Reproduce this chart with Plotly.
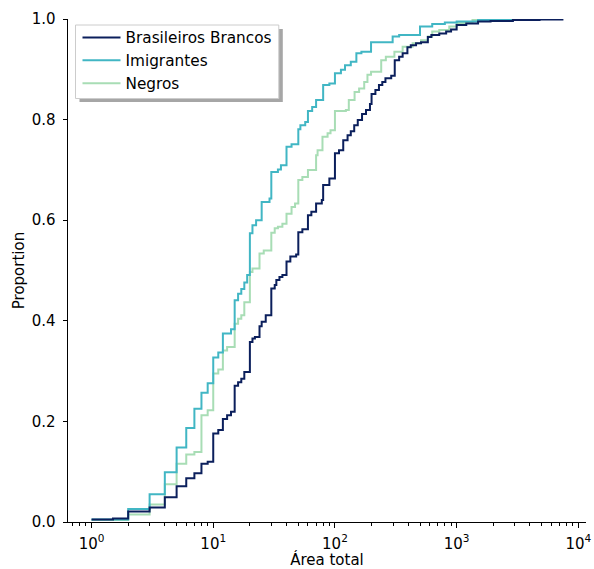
import plotly.graph_objects as go

series_names = ["Brasileiros Brancos", "Imigrantes", "Negros"]

brancos_area = [1, 1.5, 2, 3, 4, 5, 6, 7, 8, 9, 10, 11, 12, 13, 14, 15, 16, 17, 18,
                20, 21, 22, 24, 25, 27, 30, 32, 33, 35, 37, 40, 43, 48, 50, 54, 60, 64,
                70, 78, 80, 90, 100, 108, 117, 127, 135, 144, 154, 167, 180, 194,
                200, 215, 230, 245, 260, 290, 310, 337, 360, 394, 420, 464,
                510, 580, 620, 720, 820, 900, 1000, 1200, 1500, 1900, 2900, 4800, 7400]
brancos_prop = [0.005, 0.007, 0.021, 0.029, 0.049, 0.071, 0.087, 0.097, 0.116, 0.120,
                0.176, 0.183, 0.205, 0.212, 0.219, 0.271, 0.278, 0.285, 0.298,
                0.358, 0.365, 0.368, 0.389, 0.398, 0.411, 0.464, 0.471, 0.481, 0.487, 0.491,
                0.518, 0.528, 0.532, 0.576, 0.582, 0.610, 0.617,
                0.633, 0.640, 0.670, 0.683, 0.733, 0.739, 0.759, 0.769, 0.777, 0.789, 0.799,
                0.811, 0.819, 0.831, 0.851, 0.859, 0.869, 0.875, 0.882, 0.887,
                0.918, 0.925, 0.932, 0.944, 0.948, 0.952,
                0.954, 0.964, 0.968, 0.971, 0.975, 0.979,
                0.988, 0.991, 0.995, 0.996, 0.998, 0.999, 1.0]

imigrantes_area = [1, 2, 3, 4, 5, 6, 7, 8, 9, 10, 11, 12, 14, 15, 16, 17, 18, 19,
                   20, 21, 22.5, 25, 29, 30, 34, 36, 40, 44, 50, 52, 57, 60, 65, 70,
                   80, 90, 100, 112, 121, 135, 150, 165, 198, 298, 337, 500, 630, 800,
                   1000, 1500, 2500, 3100]
imigrantes_prop = [0.005, 0.026, 0.055, 0.099, 0.148, 0.187, 0.225, 0.257, 0.276, 0.327,
                   0.337, 0.375, 0.383, 0.441, 0.454, 0.463, 0.476, 0.491,
                   0.574, 0.590, 0.600, 0.636, 0.643, 0.696, 0.701, 0.709, 0.746, 0.751,
                   0.781, 0.789, 0.795, 0.817, 0.825, 0.839, 0.869, 0.872,
                   0.892, 0.899, 0.908, 0.915, 0.932, 0.935, 0.954, 0.965, 0.968,
                   0.985, 0.990, 0.993, 0.995, 0.998, 0.999, 1.0]

negros_area = [1, 2, 3, 4, 5, 6, 7, 8, 9, 10, 11, 12, 13, 15, 16, 17, 18,
               20, 21, 24, 26, 30, 32, 34, 37, 40, 44, 47, 50, 54, 60,
               70, 72, 79, 87, 92, 100, 123, 130, 145, 158, 174, 185, 198,
               240, 262, 308, 360, 435, 510, 580, 630, 720, 870, 1000, 1350, 2550]
negros_prop = [0.004, 0.015, 0.035, 0.075, 0.116, 0.134, 0.139, 0.212, 0.222, 0.295,
               0.303, 0.341, 0.348, 0.394, 0.404, 0.411, 0.437,
               0.497, 0.504, 0.534, 0.540, 0.575, 0.584, 0.587, 0.593,
               0.613, 0.626, 0.633, 0.680, 0.686, 0.700,
               0.729, 0.739, 0.766, 0.773, 0.779, 0.817, 0.819, 0.839, 0.855, 0.862,
               0.875, 0.889, 0.895, 0.918, 0.925, 0.935, 0.945, 0.952,
               0.958, 0.965, 0.975, 0.978, 0.985, 0.992, 0.998, 1.0]

x_tick_values = [1, 10, 100, 1000, 10000]
x_tick_labels = ["10<sup>0</sup>", "10<sup>1</sup>", "10<sup>2</sup>", "10<sup>3</sup>", "10<sup>4</sup>"]
y_tick_values = [0.0, 0.2, 0.4, 0.6, 0.8, 1.0]
y_tick_labels = ["0.0", "0.2", "0.4", "0.6", "0.8", "1.0"]

colors = {"Brasileiros Brancos": "#0b1f5c", "Imigrantes": "#41b6c4", "Negros": "#a8ddb5"}

# ---------------- figure ----------------
W, H = 594, 569
L, R, T, B = 67.5, 586, 19, 522   # plot area in px
FONT = "DejaVu Sans"
FS = 15

fig = go.Figure()
data_sets = {
    "Brasileiros Brancos": (brancos_area, brancos_prop),
    "Imigrantes": (imigrantes_area, imigrantes_prop),
    "Negros": (negros_area, negros_prop),
}
# draw in reverse order so Brasileiros is on top, legend in original order
for rank, name in reversed(list(enumerate(series_names))):
    xs, ys = data_sets[name]
    fig.add_trace(go.Scatter(
        x=xs, y=ys, mode="lines", name=name, line_shape="hv",
        line=dict(color=colors[name], width=2),
        legendrank=rank + 1,
    ))

minor_vals = [k * 10 ** d for d in range(-1, 4) for k in range(2, 10)]
minor_vals = [v for v in minor_vals if 0.64 < v < 11500]

def px_x(p):
    return (p - L) / (R - L)

def px_y(p):
    return (B - p) / (B - T)

fig.update_layout(
    width=W, height=H,
    margin=dict(l=L, r=W - R, t=T, b=H - B, pad=0, autoexpand=False),
    paper_bgcolor="white", plot_bgcolor="white",
    font=dict(family=FONT, size=FS, color="black"),
    showlegend=True,
    legend=dict(
        x=px_x(77), y=px_y(21), xanchor="left", yanchor="top",
        bgcolor="rgba(0,0,0,0)", borderwidth=0,
        font=dict(family=FONT, size=FS + 0.3, color="black"),
        itemwidth=38,
    ),
    xaxis=dict(
        type="log", range=[-0.1935, 4.063], automargin=False,
        tickmode="array", tickvals=x_tick_values, ticktext=x_tick_labels,
        ticks="outside", ticklen=4.5, tickwidth=1, tickcolor="black",
        ticklabelstandoff=3,
        showline=True, linecolor="black", linewidth=1,
        showgrid=False, zeroline=False,
        minor=dict(tickmode="array", tickvals=minor_vals, ticks="outside",
                   ticklen=2.5, tickwidth=0.8, tickcolor="black", showgrid=False),
        title=dict(text="Área total", standoff=15, font=dict(size=FS)),
        tickfont=dict(size=FS),
    ),
    yaxis=dict(
        range=[0, 1], tickmode="array", tickvals=y_tick_values, ticktext=y_tick_labels,
        automargin=False,
        ticks="outside", ticklen=4.5, tickwidth=1, tickcolor="black",
        ticklabelstandoff=4,
        showline=True, linecolor="black", linewidth=1,
        showgrid=False, zeroline=False,
        title=dict(text="Proportion", standoff=3, font=dict(size=FS)),
        tickfont=dict(size=FS),
    ),
    shapes=[
        # legend shadow
        dict(type="rect", xref="paper", yref="paper",
             x0=px_x(79), x1=px_x(282.5), y0=px_y(102), y1=px_y(29),
             fillcolor="#a6a6a6", line=dict(width=0), layer="above"),
        # legend frame
        dict(type="rect", xref="paper", yref="paper",
             x0=px_x(75), x1=px_x(278.5), y0=px_y(98.5), y1=px_y(25),
             fillcolor="white", line=dict(color="#cccccc", width=1), layer="above"),
    ],
)

fig.write_html("out.html", config={"displayModeBar": False},
               post_script="document.body.style.margin='0px';")
